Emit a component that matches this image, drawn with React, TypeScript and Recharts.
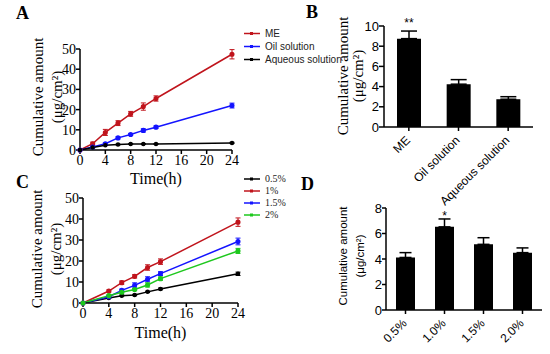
import React from 'react';
import { LineChart, Line, BarChart, Bar, XAxis, YAxis, ErrorBar, Legend, LabelList } from 'recharts';

const SERIF = '"Liberation Serif", "Times New Roman", serif';
const SANS = '"Liberation Sans", Arial, sans-serif';

const RED = '#c0141c';
const BLUE = '#1414ff';
const GREEN = '#1ec81e';
const BLACK = '#000';

// A: vehicles over time
const timesA = [0, 2, 4, 6, 8, 10, 12, 24];
const meA = [0, 3.1, 8.7, 13.3, 17.9, 21.5, 25.5, 47.4];
const meErrA = [0, 0.8, 1.5, 1.2, 1.2, 1.8, 1.3, 2.3];
const oilA = [0, 1.5, 3.1, 6.0, 7.7, 9.7, 11.3, 22.0];
const oilErrA = [0, 0.3, 0.4, 0.5, 0.5, 0.8, 0.6, 1.2];
const aqA = [0, 1.2, 2.4, 2.7, 3.0, 3.0, 3.0, 3.5];
const aqErrA = [0, 0.1, 0.2, 0.2, 0.2, 0.2, 0.2, 0.3];
const legendA = ['ME', 'Oil solution', 'Aqueous solution'];
const colorsA = [RED, BLUE, BLACK];

// B: amount in skin
const vehiclesB = ['ME', 'Oil solution', 'Aqueous solution'];
const amountB = [8.75, 4.24, 2.75];
const errB = [0.75, 0.45, 0.25];
const sigB = ['**', '', ''];

// C: concentration over time
const timesC = [0, 4, 6, 8, 10, 12, 24];
const p05C = [0, 2.4, 3.5, 3.8, 5.3, 6.7, 13.9];
const p05ErrC = [0, 0.2, 0.3, 0.3, 0.3, 0.4, 0.8];
const p1C = [0, 5.7, 9.7, 12.7, 16.9, 19.7, 38.5];
const p1ErrC = [0, 0.5, 0.8, 0.8, 1.3, 1.3, 2.0];
const p15C = [0, 3.0, 6.0, 8.4, 11.3, 14.0, 29.3];
const p15ErrC = [0, 0.3, 0.6, 1.2, 1.2, 0.9, 1.6];
const p2C = [0, 3.5, 5.1, 6.4, 8.6, 11.6, 24.8];
const p2ErrC = [0, 0.3, 0.4, 0.5, 1.0, 0.8, 1.2];
const legendC = ['0.5%', '1%', '1.5%', '2%'];
const colorsC = [BLACK, RED, BLUE, GREEN];

// D: amount in skin by concentration
const concD = ['0.5%', '1.0%', '1.5%', '2.0%'];
const amountD = [4.12, 6.52, 5.15, 4.5];
const errD = [0.38, 0.62, 0.52, 0.37];
const sigD = ['', '*', '', ''];

const dataA = timesA.map((t, i) => ({
  t,
  me: meA[i], meErr: meErrA[i],
  oil: oilA[i], oilErr: oilErrA[i],
  aq: aqA[i], aqErr: aqErrA[i],
}));

const dataC = timesC.map((t, i) => ({
  t,
  p05: p05C[i], p05Err: p05ErrC[i],
  p1: p1C[i], p1Err: p1ErrC[i],
  p15: p15C[i], p15Err: p15ErrC[i],
  p2: p2C[i], p2Err: p2ErrC[i],
}));

const dataB = vehiclesB.map((name, i) => ({ name, value: amountB[i], err: [0, errB[i]], sig: sigB[i] }));
const dataD = concD.map((name, i) => ({ name, value: amountD[i], err: [0, errD[i]], sig: sigD[i] }));

const timeTicks = [0, 4, 8, 12, 16, 20, 24];

// rotated html titles, centred on (cx, cy)
function VTitle({ cx, cy, text, font, size }: { cx: number; cy: number; text: string; font: string; size: number }) {
  return (
    <div
      style={{
        position: 'absolute', left: cx, top: cy, whiteSpace: 'nowrap',
        transform: 'translate(-50%, -50%) rotate(-90deg)',
        fontFamily: font, fontSize: size, lineHeight: 1, color: '#000',
      }}
    >
      {text}
    </div>
  );
}

function YTitles({ x1, x2, cy, font, size }: { x1: number; x2: number; cy: number; font: string; size: number }) {
  return (
    <>
      <VTitle cx={x1} cy={cy} text="Cumulative amount" font={font} size={size} />
      <VTitle cx={x2} cy={cy} text="(μg/cm²)" font={font} size={size} />
    </>
  );
}

function SlantTick(props: any) {
  const { x, y, payload } = props;
  return (
    <g transform={`translate(${x + 2},${y + 8})`}>
      <text x={0} y={0} textAnchor="end" transform="rotate(-45)" fontFamily={SANS} fontSize={12} fill="#000">
        {payload.value}
      </text>
    </g>
  );
}

function legendBox(labels: string[], colors: string[], font: string, size: number, rowH: number) {
  return () => (
    <div style={{ fontFamily: font, fontSize: size, color: '#222', lineHeight: `${rowH}px` }}>
      {labels.map((label, i) => (
        <div key={label} style={{ display: 'flex', alignItems: 'center', height: rowH }}>
          <svg width={18} height={rowH} style={{ marginRight: 4 }}>
            <line x1={1} x2={17} y1={rowH / 2} y2={rowH / 2} stroke={colors[i]} strokeWidth={1.5} />
            <rect x={7} y={rowH / 2 - 1.5} width={3} height={3} fill={colors[i]} />
          </svg>
          <span>{label}</span>
        </div>
      ))}
    </div>
  );
}

const axisLine = { stroke: '#000', strokeWidth: 1.5 };
const tickLine = { stroke: '#000', strokeWidth: 1.5 };
const timeLabel = { value: 'Time(h)', position: 'insideBottom' as const, fill: '#000', fontSize: 16, fontFamily: SERIF };

function PanelLetter({ x, y, text }: { x: number; y: number; text: string }) {
  return (
    <div style={{ position: 'absolute', left: x, top: y, fontFamily: SERIF, fontWeight: 'bold', fontSize: 18, lineHeight: '18px' }}>
      {text}
    </div>
  );
}

export default function App() {
  return (
    <div style={{ position: 'absolute', left: 0, top: 0, width: 550, height: 354, background: '#fff', overflow: 'hidden' }}>
      <PanelLetter x={16} y={4} text="A" />
      <PanelLetter x={306} y={3} text="B" />
      <PanelLetter x={16} y={173} text="C" />
      <PanelLetter x={301} y={175} text="D" />

      <div style={{ position: 'absolute', left: 0, top: 0 }}>
        <LineChart width={340} height={190} data={dataA} margin={{ top: 49, right: 108, left: 0, bottom: 0 }}>
          <XAxis
            dataKey="t" type="number" domain={[0, 24]} ticks={timeTicks} height={40} interval={0}
            axisLine={axisLine} tickLine={tickLine} tickSize={4} tickMargin={1}
            tick={{ fill: '#000', fontSize: 14, fontFamily: SERIF }}
            label={{ ...timeLabel, offset: 6 }}
          />
          <YAxis
            type="number" domain={[0, 50]} ticks={[0, 10, 20, 30, 40, 50]} width={80} interval={0}
            axisLine={axisLine} tickLine={tickLine} tickSize={4} tickMargin={0}
            tick={{ fill: '#000', fontSize: 14, fontFamily: SERIF }}
          />
          <Legend
            layout="horizontal" verticalAlign="middle" align="center"
            wrapperStyle={{ left: 243, top: 27, width: 100 }}
            content={legendBox(legendA, colorsA, SANS, 10, 13)}
          />
          <Line name="ME" dataKey="me" stroke={RED} strokeWidth={1.5} dot={{ r: 1.8, fill: RED, stroke: RED }} isAnimationActive={false}>
            <ErrorBar dataKey="meErr" direction="y" width={2.5} stroke={RED} strokeWidth={1} />
          </Line>
          <Line name="Oil solution" dataKey="oil" stroke={BLUE} strokeWidth={1.5} dot={{ r: 1.8, fill: BLUE, stroke: BLUE }} isAnimationActive={false}>
            <ErrorBar dataKey="oilErr" direction="y" width={2.5} stroke={BLUE} strokeWidth={1} />
          </Line>
          <Line name="Aqueous solution" dataKey="aq" stroke={BLACK} strokeWidth={1.5} dot={{ r: 1.5, fill: BLACK, stroke: BLACK }} isAnimationActive={false}>
            <ErrorBar dataKey="aqErr" direction="y" width={2.5} stroke={BLACK} strokeWidth={1} />
          </Line>
        </LineChart>
      </div>
      <YTitles x1={38} x2={57} cy={97} font={SERIF} size={15} />

      <div style={{ position: 'absolute', left: 280, top: 0 }}>
        <BarChart width={270} height={215} data={dataB} margin={{ top: 26, right: 17, left: 0, bottom: 0 }}>
          <XAxis
            dataKey="name" height={88} interval={0}
            axisLine={axisLine} tickLine={tickLine} tickSize={4} tickMargin={2}
            tick={<SlantTick />}
          />
          <YAxis
            type="number" domain={[0, 10]} ticks={[0, 2, 4, 6, 8, 10]} width={104} interval={0}
            axisLine={axisLine} tickLine={tickLine} tickSize={5} tickMargin={0}
            tick={{ fill: '#000', fontSize: 13, fontFamily: SANS }}
          />
          <Bar dataKey="value" fill="#000" barSize={24} isAnimationActive={false}>
            <ErrorBar dataKey="err" direction="y" width={8} stroke="#000" strokeWidth={1.5} />
            <LabelList dataKey="sig" position="top" offset={12} fill="#000" fontSize={12} fontFamily={SANS} />
          </Bar>
        </BarChart>
      </div>
      <YTitles x1={343} x2={358} cy={76} font={SERIF} size={15} />

      <div style={{ position: 'absolute', left: 0, top: 168 }}>
        <LineChart width={340} height={186} data={dataC} margin={{ top: 30, right: 102, left: 0, bottom: 0 }}>
          <XAxis
            dataKey="t" type="number" domain={[0, 24]} ticks={timeTicks} height={51} interval={0}
            axisLine={axisLine} tickLine={tickLine} tickSize={4} tickMargin={1}
            tick={{ fill: '#000', fontSize: 14, fontFamily: SERIF }}
            label={{ ...timeLabel, offset: 16 }}
          />
          <YAxis
            type="number" domain={[0, 50]} ticks={[0, 10, 20, 30, 40, 50]} width={83} interval={0}
            axisLine={axisLine} tickLine={tickLine} tickSize={4} tickMargin={0}
            tick={{ fill: '#000', fontSize: 14, fontFamily: SERIF }}
          />
          <Legend
            layout="horizontal" verticalAlign="middle" align="center"
            wrapperStyle={{ left: 243, top: 5, width: 60 }}
            content={legendBox(legendC, colorsC, SERIF, 10, 12)}
          />
          <Line name="0.5%" dataKey="p05" stroke={BLACK} strokeWidth={1.5} dot={{ r: 1.5, fill: BLACK, stroke: BLACK }} isAnimationActive={false}>
            <ErrorBar dataKey="p05Err" direction="y" width={2.5} stroke={BLACK} strokeWidth={1} />
          </Line>
          <Line name="1%" dataKey="p1" stroke={RED} strokeWidth={1.5} dot={{ r: 1.8, fill: RED, stroke: RED }} isAnimationActive={false}>
            <ErrorBar dataKey="p1Err" direction="y" width={2.5} stroke={RED} strokeWidth={1} />
          </Line>
          <Line name="1.5%" dataKey="p15" stroke={BLUE} strokeWidth={1.5} dot={{ r: 1.8, fill: BLUE, stroke: BLUE }} isAnimationActive={false}>
            <ErrorBar dataKey="p15Err" direction="y" width={2.5} stroke={BLUE} strokeWidth={1} />
          </Line>
          <Line name="2%" dataKey="p2" stroke={GREEN} strokeWidth={1.5} dot={{ r: 1.8, fill: GREEN, stroke: GREEN }} isAnimationActive={false}>
            <ErrorBar dataKey="p2Err" direction="y" width={2.5} stroke={GREEN} strokeWidth={1} />
          </Line>
        </LineChart>
      </div>
      <YTitles x1={37} x2={56} cy={249} font={SERIF} size={15} />

      <div style={{ position: 'absolute', left: 280, top: 175 }}>
        <BarChart width={270} height={179} data={dataD} margin={{ top: 33, right: 8, left: 0, bottom: 0 }}>
          <XAxis
            dataKey="name" height={44} interval={0}
            axisLine={axisLine} tickLine={tickLine} tickSize={4} tickMargin={2}
            tick={<SlantTick />}
          />
          <YAxis
            type="number" domain={[0, 8]} ticks={[0, 2, 4, 6, 8]} width={106} interval={0}
            axisLine={axisLine} tickLine={tickLine} tickSize={4} tickMargin={0}
            tick={{ fill: '#000', fontSize: 13, fontFamily: SANS }}
          />
          <Bar dataKey="value" fill="#000" barSize={19} isAnimationActive={false}>
            <ErrorBar dataKey="err" direction="y" width={6} stroke="#000" strokeWidth={1.5} />
            <LabelList dataKey="sig" position="top" offset={7} fill="#000" fontSize={12} fontFamily={SANS} />
          </Bar>
        </BarChart>
      </div>
      <YTitles x1={344} x2={361} cy={256} font={SANS} size={11.5} />
    </div>
  );
}
